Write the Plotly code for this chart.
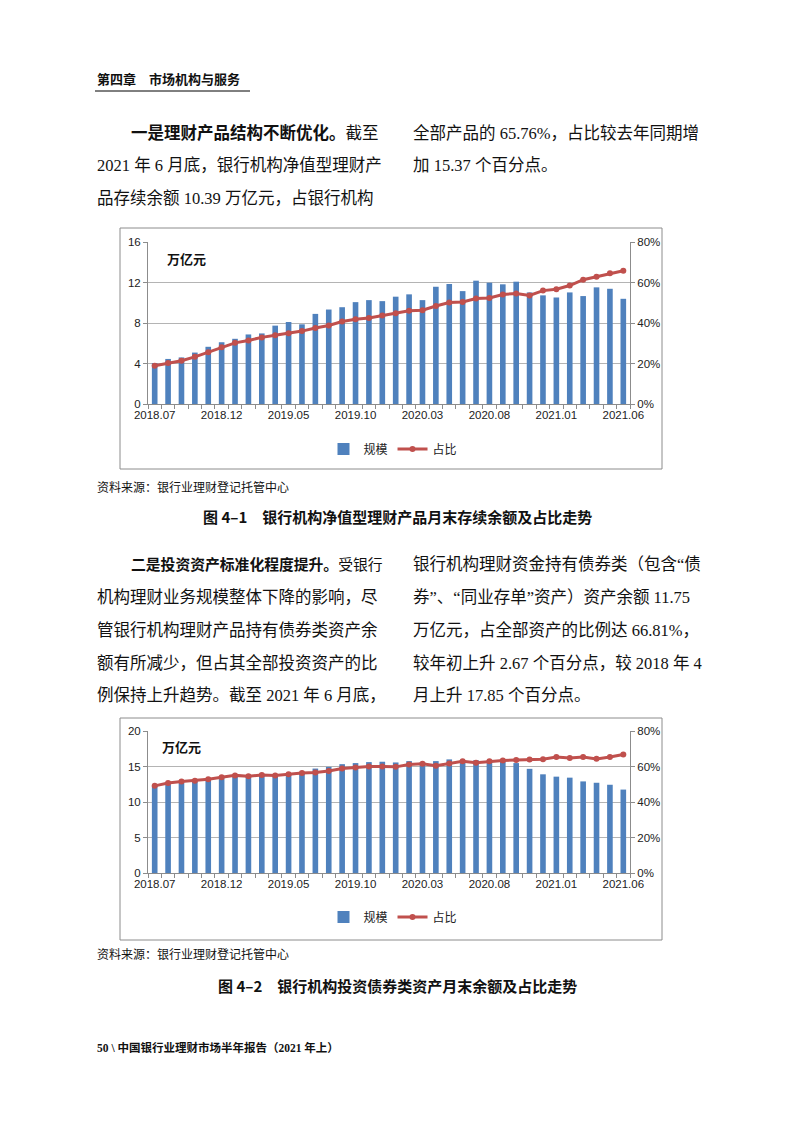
import plotly.graph_objects as go

W, H = 793, 1122

months = ["2018.07", "2018.08", "2018.09", "2018.10", "2018.11", "2018.12",
          "2019.01", "2019.02", "2019.03", "2019.04", "2019.05", "2019.06",
          "2019.07", "2019.08", "2019.09", "2019.10", "2019.11", "2019.12",
          "2020.01", "2020.02", "2020.03", "2020.04", "2020.05", "2020.06",
          "2020.07", "2020.08", "2020.09", "2020.10", "2020.11", "2020.12",
          "2021.01", "2021.02", "2021.03", "2021.04", "2021.05", "2021.06"]
shown_labels = ["2018.07", "2018.12", "2019.05", "2019.10", "2020.03", "2020.08", "2021.01", "2021.06"]

# Chart 1: net-value products balance (万亿元) and share (%)
scale1 = [4.05, 4.45, 4.6, 5.08, 5.65, 6.1, 6.44, 6.87, 6.97, 7.74, 8.1, 7.87,
          8.9, 9.33, 9.56, 10.06, 10.26, 10.16, 10.6, 10.83, 10.26, 11.58, 11.85, 11.15,
          12.18, 11.98, 11.82, 12.08, 11.02, 10.73, 10.52, 11.02, 10.66, 11.52, 11.38, 10.39]
share1 = [18.9, 20.3, 21.4, 23.3, 25.5, 28.0, 30.2, 31.4, 32.9, 33.9, 35.0, 36.0,
          37.5, 38.8, 40.7, 41.8, 42.5, 43.7, 44.8, 46.0, 46.3, 48.4, 50.1, 50.39,
          52.1, 52.4, 54.1, 54.6, 53.6, 56.0, 56.7, 58.5, 61.4, 62.9, 64.6, 65.76]

# Chart 2: bond assets balance (万亿元) and share (%)
scale2 = [12.24, 12.48, 12.71, 12.86, 13.05, 13.33, 13.67, 13.52, 13.81, 13.67, 13.9, 14.14,
          14.71, 14.95, 15.33, 15.48, 15.62, 15.67, 15.57, 15.76, 15.57, 15.76, 16.0, 15.71,
          15.88, 15.81, 15.71, 15.48, 14.67, 13.9, 13.57, 13.43, 12.9, 12.71, 12.43, 11.75]
share2 = [49.1, 50.7, 51.6, 52.0, 52.8, 53.9, 55.0, 54.5, 55.2, 54.9, 55.6, 56.4,
          56.6, 57.5, 58.9, 59.4, 60.0, 60.0, 59.8, 61.1, 61.5, 60.4, 61.7, 63.0,
          62.1, 62.9, 63.4, 63.7, 64.0, 64.14, 65.3, 64.8, 65.3, 64.3, 65.3, 66.81]

BLUE = "#4F81BD"
RED = "#C0504D"
GRID = "#b4b4b4"
AX = "#8c8c8c"
CJK = "Noto Sans CJK SC"
BODY = "Liberation Serif, Noto Sans CJK SC"
NUM = "Liberation Sans, Arial, sans-serif"


def px(x):
    return x / W


def py(y):
    return 1 - y / H


fig = go.Figure()

fig.add_trace(go.Bar(x=months, y=scale1, name="规模", marker_color=BLUE, width=0.42,
                     xaxis="x", yaxis="y", legend="legend"))
fig.add_trace(go.Scatter(x=months, y=[v / 100 for v in share1], name="占比", mode="lines+markers",
                         line=dict(color=RED, width=3), marker=dict(color=RED, size=6),
                         xaxis="x", yaxis="y2", legend="legend"))
fig.add_trace(go.Bar(x=months, y=scale2, name="规模", marker_color=BLUE, width=0.42,
                     xaxis="x3", yaxis="y3", legend="legend2"))
fig.add_trace(go.Scatter(x=months, y=[v / 100 for v in share2], name="占比", mode="lines+markers",
                         line=dict(color=RED, width=3), marker=dict(color=RED, size=6),
                         xaxis="x3", yaxis="y4", legend="legend2"))

ticktext = [m if m in shown_labels else "" for m in months]
tickfont = dict(family=NUM, size=11.5, color="#222")

xcommon = dict(type="category", tickvals=months, ticktext=ticktext, tickson="boundaries",
               ticks="outside", ticklen=4, tickcolor=AX, showline=True, linecolor=AX,
               linewidth=1, tickfont=tickfont, showgrid=False, fixedrange=True,
               range=[-0.5, len(months) - 0.5], tickangle=0, automargin=False)
ycommon = dict(showline=True, linecolor=AX, ticks="outside", ticklen=4, tickcolor=AX,
               tickfont=tickfont, zeroline=False, automargin=False, fixedrange=True)

xd = [px(148), px(630)]
fig.update_layout(
    template="none",
    width=W, height=H, margin=dict(l=0, r=0, t=0, b=0, pad=0, autoexpand=False), autosize=False,
    paper_bgcolor="white", plot_bgcolor="white", showlegend=True,
    xaxis=dict(domain=xd, anchor="y", **xcommon),
    yaxis=dict(domain=[py(404), py(242)], range=[0, 16], dtick=4, showgrid=True,
               gridcolor=GRID, gridwidth=1, anchor="x", **ycommon),
    yaxis2=dict(overlaying="y", side="right", range=[0, 0.8], dtick=0.2, tickformat=".0%",
                showgrid=False, anchor="x", **ycommon),
    xaxis3=dict(domain=xd, anchor="y3", **xcommon),
    yaxis3=dict(domain=[py(873), py(731)], range=[0, 20], dtick=5, showgrid=True,
                gridcolor=GRID, gridwidth=1, anchor="x3", **ycommon),
    yaxis4=dict(overlaying="y3", side="right", range=[0, 0.8], dtick=0.2, tickformat=".0%",
                showgrid=False, anchor="x3", **ycommon),
    legend=dict(orientation="h", x=px(393), y=py(449), xanchor="center", yanchor="middle",
                font=dict(family=CJK, size=12, color="#222"), bgcolor="rgba(0,0,0,0)",
                tracegroupgap=0),
    legend2=dict(orientation="h", x=px(393), y=py(917), xanchor="center", yanchor="middle",
                 font=dict(family=CJK, size=12, color="#222"), bgcolor="rgba(0,0,0,0)",
                 tracegroupgap=0),
)

shapes = [
    dict(type="rect", xref="paper", yref="paper", x0=px(120), x1=px(662), y0=py(469), y1=py(228),
         line=dict(color="#8c8c8c", width=1)),
    dict(type="rect", xref="paper", yref="paper", x0=px(120), x1=px(662), y0=py(940), y1=py(718),
         line=dict(color="#8c8c8c", width=1)),
    dict(type="line", xref="paper", yref="paper", x0=px(95), x1=px(250), y0=py(91), y1=py(91),
         line=dict(color="#000", width=1)),
]
fig.update_layout(shapes=shapes)

anns = []


def text(x, y, s, size=16.5, anchor="left", bold=False, color="#111", family=BODY):
    anns.append(dict(xref="paper", yref="paper", x=px(x), y=py(y), text=("<b>%s</b>" % s) if bold else s,
                     showarrow=False, xanchor=anchor, yanchor="middle",
                     font=dict(family=family, size=size, color=color)))


text(95, 80, "第四章　市场机构与服务", size=13, bold=True)

# paragraph 1
text(129, 133, "<b>一是理财产品结构不断优化。</b>截至")
text(95, 165, "2021 年 6 月底，银行机构净值型理财产")
text(95, 198, "品存续余额 10.39 万亿元，占银行机构")
text(411, 133, "全部产品的 65.76%，占比较去年同期增")
text(411, 165, "加 15.37 个百分点。")

# chart 1 extras
text(165, 258, "万亿元", size=13, bold=True, family=CJK)
text(95, 487, "资料来源：银行业理财登记托管中心", size=12)
text(397, 517, "图 4–1　银行机构净值型理财产品月末存续余额及占比走势", size=15, anchor="center", bold=True, family=CJK)

# paragraph 2
text(129, 564, "<b>二是投资资产标准化程度提升。</b>受银行", size=14.8)
text(95, 597, "机构理财业务规模整体下降的影响，尽")
text(95, 630, "管银行机构理财产品持有债券类资产余")
text(95, 663, "额有所减少，但占其全部投资资产的比")
text(95, 695, "例保持上升趋势。截至 2021 年 6 月底，")
text(411, 564, "银行机构理财资金持有债券类（包含“债")
text(411, 597, "券”、“同业存单”资产）资产余额 11.75")
text(411, 630, "万亿元，占全部资产的比例达 66.81%，")
text(411, 663, "较年初上升 2.67 个百分点，较 2018 年 4")
text(411, 695, "月上升 17.85 个百分点。")

# chart 2 extras
text(160, 746, "万亿元", size=13, bold=True, family=CJK)
text(95, 954, "资料来源：银行业理财登记托管中心", size=12)
text(397, 985, "图 4–2　银行机构投资债券类资产月末余额及占比走势", size=15, anchor="center", bold=True, family=CJK)

text(95, 1047, "50 \\ 中国银行业理财市场半年报告（2021 年上）", size=11.5, bold=True)

fig.update_layout(annotations=anns)

fig.write_html("out.html", config={"displayModeBar": False},
               post_script="document.body.style.margin='0px';")
